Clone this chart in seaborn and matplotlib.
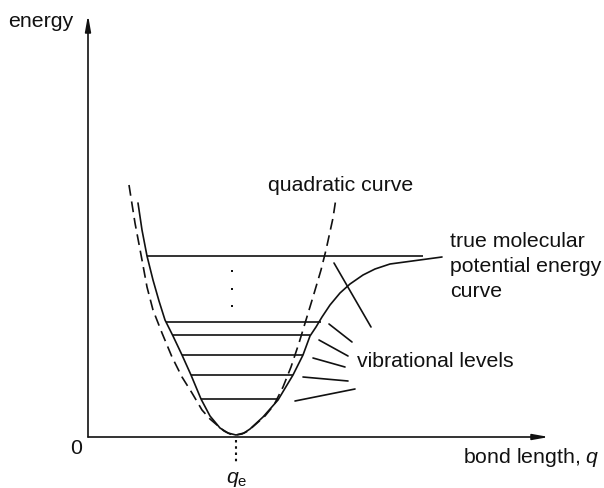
import numpy as np
import pandas as pd
import seaborn as sns
import matplotlib.pyplot as plt

# quadratic (harmonic) approximation
quad_q = [0.41, 0.47, 0.54, 0.59, 0.65, 0.74, 0.84, 0.94, 1.04, 1.14, 1.22, 1.29, 1.36, 1.42, 1.48,
          1.54, 1.60, 1.68, 1.77, 1.86, 1.95, 2.03, 2.11, 2.18, 2.25, 2.33, 2.38, 2.45, 2.48]
quad_E = [2.52, 2.14, 1.77, 1.50, 1.27, 1.04, 0.80, 0.60, 0.44, 0.27, 0.18, 0.12, 0.06, 0.03, 0.02,
          0.03, 0.06, 0.13, 0.21, 0.32, 0.50, 0.70, 0.94, 1.17, 1.40, 1.67, 1.87, 2.19, 2.39]

# true molecular potential energy curve
true_q = [0.50, 0.54, 0.59, 0.65, 0.71, 0.77, 0.85, 0.94, 1.03, 1.13, 1.22, 1.32, 1.40, 1.48,
          1.56, 1.62, 1.75, 1.90, 2.05, 2.15, 2.22, 2.28, 2.34, 2.42, 2.52, 2.62, 2.75,
          2.87, 3.02, 3.54]
true_E = [2.34, 2.07, 1.81, 1.57, 1.36, 1.17, 1.01, 0.82, 0.62, 0.38, 0.21, 0.09, 0.04, 0.02,
          0.04, 0.08, 0.20, 0.37, 0.62, 0.82, 1.01, 1.10, 1.20, 1.32, 1.44, 1.53, 1.62,
          1.68, 1.73, 1.80]

# vibrational levels: energy, left and right end
level_E = [1.81, 1.15, 1.02, 0.82, 0.62, 0.38]
level_q0 = [0.59, 0.78, 0.85, 0.94, 1.03, 1.13]
level_q1 = [3.35, 2.33, 2.22, 2.15, 2.05, 1.90]

# the three dots between the levels
dots_q = [1.44, 1.44, 1.44]
dots_E = [1.66, 1.48, 1.31]

# leader lines for "vibrational levels"
lead_q0 = [2.46, 2.41, 2.31, 2.25, 2.15, 2.07]
lead_E0 = [1.74, 1.13, 0.97, 0.79, 0.60, 0.36]
lead_q1 = [2.83, 2.64, 2.60, 2.57, 2.60, 2.67]
lead_E1 = [1.10, 0.95, 0.81, 0.70, 0.56, 0.48]

q_e = 1.48

sns.set_theme(style='white')
plt.rcParams['font.family'] = ['Liberation Sans', 'DejaVu Sans']
plt.rcParams['mathtext.fontset'] = 'custom'
plt.rcParams['mathtext.rm'] = 'Liberation Sans'
plt.rcParams['mathtext.it'] = 'Liberation Sans:italic'

fig = plt.figure(figsize=(6.04, 4.88), dpi=100)
ax = fig.add_axes([0, 0, 1, 1])
ax.set_xlim(-0.88, 5.16)
ax.set_ylim(-0.51, 4.37)
ax.axis('off')

lw = 1.2
ink = '#111111'

true = pd.DataFrame({'q': true_q, 'E': true_E})
sns.lineplot(data=true, x='q', y='E', sort=False, estimator=None, ax=ax,
             color=ink, lw=lw)
quad_line, = ax.plot(quad_q, quad_E, color=ink, lw=lw)
quad_line.set_dashes([6.5, 3.5])

ax.hlines(level_E, level_q0, level_q1, color=ink, lw=lw)
ax.scatter(dots_q, dots_E, s=2.5, marker='s', color=ink, linewidths=0)
for x0, y0, x1, y1 in zip(lead_q0, lead_E0, lead_q1, lead_E1):
    ax.plot([x0, x1], [y0, y1], color=ink, lw=lw)

# dotted line down to q_e
ax.plot([q_e, q_e], [-0.03, -0.26], color=ink, lw=1.5, linestyle=(0, (1.2, 1.8)))

# axes with arrows
arrow = dict(arrowstyle='-|>,head_length=0.95,head_width=0.17', color=ink, lw=lw,
             shrinkA=0, shrinkB=0, mutation_scale=10)
ax.annotate('', xy=(4.61, 0), xytext=(0, 0), arrowprops=arrow)
ax.annotate('', xy=(0, 4.22), xytext=(0, 0), arrowprops=arrow)

fs = 15.3
ax.text(-0.80, 4.10, 'energy', fontsize=fs, color=ink, va='baseline')
ax.text(-0.12, -0.17, '0', fontsize=fs, color=ink, ha='center', va='baseline')
ax.text(3.75, -0.26, 'bond length, $q$', fontsize=fs, color=ink, va='baseline')
ax.text(q_e + 0.01, -0.46, '$q_\\mathrm{e}$', fontsize=fs, color=ink, ha='center', va='baseline')
ax.text(1.80, 2.46, 'quadratic curve', fontsize=fs, color=ink, va='baseline')
ax.text(3.62, 1.90, 'true molecular', fontsize=fs, color=ink, va='baseline')
ax.text(3.62, 1.65, 'potential energy', fontsize=fs, color=ink, va='baseline')
ax.text(3.62, 1.40, 'curve', fontsize=fs, color=ink, va='baseline')
ax.text(2.69, 0.70, 'vibrational levels', fontsize=fs, color=ink, va='baseline')

fig.savefig('out.png', dpi=100)
